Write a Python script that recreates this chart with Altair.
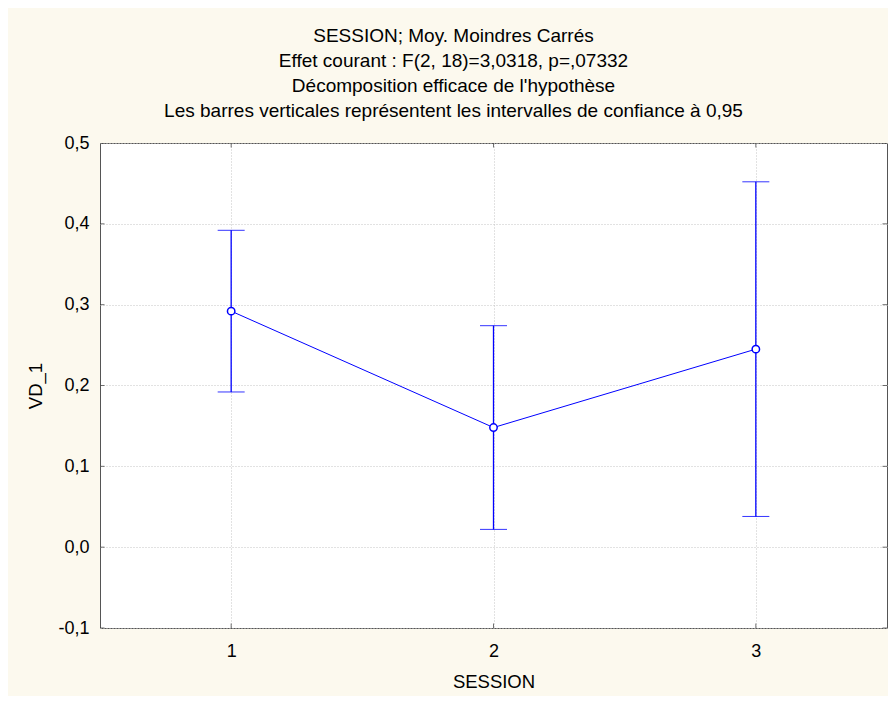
import altair as alt
import pandas as pd

sessions = [1, 2, 3]
means = [0.292, 0.148, 0.245]
lower = [0.192, 0.022, 0.038]
upper = [0.392, 0.274, 0.452]
y_ticks = [-0.1, 0.0, 0.1, 0.2, 0.3, 0.4, 0.5]
x_domain = [0.5, 3.5]
y_domain = [-0.1, 0.5]

title_lines = [
    "SESSION; Moy. Moindres Carrés",
    "Effet courant : F(2, 18)=3,0318, p=,07332",
    "Décomposition efficace de l'hypothèse",
    "Les barres verticales représentent les intervalles de confiance à 0,95",
]

df = pd.DataFrame({"SESSION": sessions, "VD_1": means, "lo": lower, "hi": upper})

# tick-mark tables (inward ticks on all four sides of the frame)
yt = pd.DataFrame(
    [{"x": xv, "y": v} for v in y_ticks for xv in x_domain]
)
xt = pd.DataFrame(
    [{"x": s, "y": yv} for s in sessions for yv in y_domain]
)

FONT = "Liberation Sans"
BLUE = "#0000FF"
comma_expr = "replace(replace(format(datum.value, '.1f'), '.', ','), '\u2212', '-')"

x_scale = alt.Scale(domain=x_domain, nice=False, zero=False)
y_scale = alt.Scale(domain=y_domain, nice=False, zero=False)

x_enc = alt.X(
    "SESSION:Q",
    scale=x_scale,
    axis=alt.Axis(values=sessions, format="d", title="SESSION", tickSize=0,
                  labelPadding=14, titleY=53.5, titleBaseline="middle"),
)
y_enc = alt.Y(
    "VD_1:Q",
    scale=y_scale,
    axis=alt.Axis(values=y_ticks, labelExpr=comma_expr,
                  title="VD_1", tickSize=0, labelPadding=11,
                  titleX=-65, titleY=242.5, titleBaseline="middle"),
)

base = alt.Chart(df)

line = base.mark_line(color=BLUE, strokeWidth=1).encode(x=x_enc, y=y_enc)
rules = base.mark_rule(color=BLUE, strokeWidth=1.3).encode(
    x="SESSION:Q", y="lo:Q", y2="hi:Q"
)
caps_hi = base.mark_tick(color=BLUE, orient="horizontal", size=27, thickness=1, opacity=0.8).encode(
    x="SESSION:Q", y="hi:Q"
)
caps_lo = base.mark_tick(color=BLUE, orient="horizontal", size=27, thickness=1, opacity=0.8).encode(
    x="SESSION:Q", y="lo:Q"
)
points = base.mark_point(shape="circle", filled=False, fill="white", fillOpacity=1,
                         color=BLUE, strokeWidth=1.5, size=55, opacity=1).encode(
    x="SESSION:Q", y="VD_1:Q"
)

ytick_marks = alt.Chart(yt).mark_tick(
    color="#333333", orient="horizontal", size=9, thickness=1, clip=True
).encode(x="x:Q", y="y:Q")
xtick_marks = alt.Chart(xt).mark_tick(
    color="#333333", orient="vertical", size=9, thickness=1, clip=True
).encode(x="x:Q", y="y:Q")

chart = (
    alt.layer(line, ytick_marks, xtick_marks, rules, caps_hi, caps_lo, points)
    .properties(
        width=787,
        height=485,
        title=alt.TitleParams(
            text=title_lines, fontSize=19, font=FONT, fontWeight="normal", color="black",
            lineHeight=25, anchor="middle", dx=-40, offset=13,
        ),
        autosize=alt.AutoSizeParams(type="none"),
        padding={"left": 92, "top": 135, "right": 1, "bottom": 68},
        background="#FCF9EE",
    )
    .configure_view(stroke="#555555", strokeWidth=1, fill="white")
    .configure_axis(
        labelFont=FONT, titleFont=FONT, labelFontSize=18, titleFontSize=18.5,
        labelColor="black", titleColor="black", titleFontWeight="normal",
        domain=False, gridColor="#C4C4C4", gridDash=[1, 2], gridWidth=1,
    )
)

chart.save("out.html", embed_options={"renderer": "svg", "actions": False})
